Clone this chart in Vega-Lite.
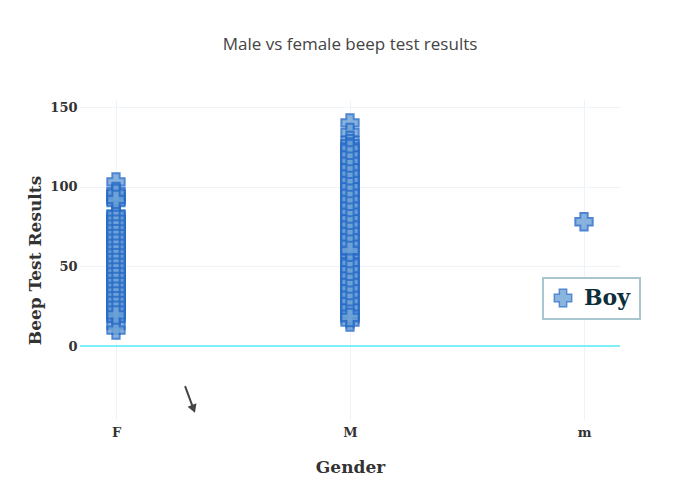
{
  "$schema": "https://vega.github.io/schema/vega-lite/v6.json",
  "width": 540,
  "height": 320,
  "autosize": {"type": "none"},
  "padding": {"left": 80, "top": 100, "right": 80, "bottom": 80},
  "background": "white",
  "title": {
    "text": "Male vs female beep test results",
    "font": "Open Sans",
    "fontSize": 17,
    "fontWeight": "normal",
    "color": "#444444",
    "anchor": "middle",
    "offset": 46
  },
  "config": {
    "view": {"stroke": null},
    "axis": {
      "labelFont": "DejaVu Serif",
      "labelFontWeight": "bold",
      "labelFontSize": 13,
      "labelColor": "#333333",
      "titleFont": "DejaVu Serif",
      "titleFontWeight": "bold",
      "titleFontSize": 17,
      "titleColor": "#333333",
      "domain": false,
      "ticks": false,
      "gridColor": "#eef3f8",
      "gridWidth": 1
    }
  },
  "datasets": {
    "scores": [
      {"Gender": "F", "score": 103}, {"Gender": "F", "score": 97}, {"Gender": "F", "score": 95}, {"Gender": "F", "score": 93},
      {"Gender": "F", "score": 91}, {"Gender": "F", "score": 90}, {"Gender": "F", "score": 83}, {"Gender": "F", "score": 81},
      {"Gender": "F", "score": 80}, {"Gender": "F", "score": 78}, {"Gender": "F", "score": 77}, {"Gender": "F", "score": 76},
      {"Gender": "F", "score": 75}, {"Gender": "F", "score": 74}, {"Gender": "F", "score": 72}, {"Gender": "F", "score": 71},
      {"Gender": "F", "score": 70}, {"Gender": "F", "score": 69}, {"Gender": "F", "score": 68}, {"Gender": "F", "score": 66},
      {"Gender": "F", "score": 65}, {"Gender": "F", "score": 64}, {"Gender": "F", "score": 63}, {"Gender": "F", "score": 62},
      {"Gender": "F", "score": 61}, {"Gender": "F", "score": 60}, {"Gender": "F", "score": 59}, {"Gender": "F", "score": 58},
      {"Gender": "F", "score": 57}, {"Gender": "F", "score": 56}, {"Gender": "F", "score": 55}, {"Gender": "F", "score": 54},
      {"Gender": "F", "score": 53}, {"Gender": "F", "score": 52}, {"Gender": "F", "score": 51}, {"Gender": "F", "score": 50},
      {"Gender": "F", "score": 49}, {"Gender": "F", "score": 48}, {"Gender": "F", "score": 47}, {"Gender": "F", "score": 46},
      {"Gender": "F", "score": 45}, {"Gender": "F", "score": 44}, {"Gender": "F", "score": 43}, {"Gender": "F", "score": 42},
      {"Gender": "F", "score": 41}, {"Gender": "F", "score": 40}, {"Gender": "F", "score": 39}, {"Gender": "F", "score": 38},
      {"Gender": "F", "score": 37}, {"Gender": "F", "score": 36}, {"Gender": "F", "score": 35}, {"Gender": "F", "score": 34},
      {"Gender": "F", "score": 33}, {"Gender": "F", "score": 32}, {"Gender": "F", "score": 31}, {"Gender": "F", "score": 30},
      {"Gender": "F", "score": 29}, {"Gender": "F", "score": 28}, {"Gender": "F", "score": 27}, {"Gender": "F", "score": 26},
      {"Gender": "F", "score": 25}, {"Gender": "F", "score": 24}, {"Gender": "F", "score": 23}, {"Gender": "F", "score": 22},
      {"Gender": "F", "score": 21}, {"Gender": "F", "score": 20}, {"Gender": "F", "score": 19}, {"Gender": "F", "score": 18},
      {"Gender": "F", "score": 17}, {"Gender": "F", "score": 13}, {"Gender": "F", "score": 10},
      {"Gender": "F", "score": 82.5}, {"Gender": "F", "score": 79.5}, {"Gender": "F", "score": 76.5}, {"Gender": "F", "score": 73.5},
      {"Gender": "F", "score": 70.5}, {"Gender": "F", "score": 67.5}, {"Gender": "F", "score": 64.5}, {"Gender": "F", "score": 61.5},
      {"Gender": "F", "score": 58.5}, {"Gender": "F", "score": 55.5}, {"Gender": "F", "score": 52.5}, {"Gender": "F", "score": 49.5},
      {"Gender": "F", "score": 46.5}, {"Gender": "F", "score": 43.5}, {"Gender": "F", "score": 40.5}, {"Gender": "F", "score": 37.5},
      {"Gender": "F", "score": 34.5}, {"Gender": "F", "score": 31.5}, {"Gender": "F", "score": 28.5}, {"Gender": "F", "score": 25.5},
      {"Gender": "F", "score": 22.5}, {"Gender": "F", "score": 19.5}, {"Gender": "F", "score": 96}, {"Gender": "F", "score": 92},
      {"Gender": "M", "score": 140}, {"Gender": "M", "score": 134}, {"Gender": "M", "score": 129}, {"Gender": "M", "score": 127},
      {"Gender": "M", "score": 125}, {"Gender": "M", "score": 123}, {"Gender": "M", "score": 121}, {"Gender": "M", "score": 119},
      {"Gender": "M", "score": 117}, {"Gender": "M", "score": 115}, {"Gender": "M", "score": 113}, {"Gender": "M", "score": 111},
      {"Gender": "M", "score": 109}, {"Gender": "M", "score": 107}, {"Gender": "M", "score": 105}, {"Gender": "M", "score": 103},
      {"Gender": "M", "score": 101}, {"Gender": "M", "score": 99}, {"Gender": "M", "score": 97}, {"Gender": "M", "score": 95},
      {"Gender": "M", "score": 93}, {"Gender": "M", "score": 91}, {"Gender": "M", "score": 89}, {"Gender": "M", "score": 87},
      {"Gender": "M", "score": 85}, {"Gender": "M", "score": 83}, {"Gender": "M", "score": 81}, {"Gender": "M", "score": 79},
      {"Gender": "M", "score": 77}, {"Gender": "M", "score": 75}, {"Gender": "M", "score": 73}, {"Gender": "M", "score": 71},
      {"Gender": "M", "score": 69}, {"Gender": "M", "score": 67}, {"Gender": "M", "score": 65}, {"Gender": "M", "score": 63},
      {"Gender": "M", "score": 61}, {"Gender": "M", "score": 59}, {"Gender": "M", "score": 57}, {"Gender": "M", "score": 55},
      {"Gender": "M", "score": 53}, {"Gender": "M", "score": 51}, {"Gender": "M", "score": 49}, {"Gender": "M", "score": 47},
      {"Gender": "M", "score": 45}, {"Gender": "M", "score": 43}, {"Gender": "M", "score": 41}, {"Gender": "M", "score": 39},
      {"Gender": "M", "score": 37}, {"Gender": "M", "score": 35}, {"Gender": "M", "score": 33}, {"Gender": "M", "score": 31},
      {"Gender": "M", "score": 29}, {"Gender": "M", "score": 27}, {"Gender": "M", "score": 25}, {"Gender": "M", "score": 23},
      {"Gender": "M", "score": 21}, {"Gender": "M", "score": 19}, {"Gender": "M", "score": 17}, {"Gender": "M", "score": 15},
      {"Gender": "M", "score": 124}, {"Gender": "M", "score": 120}, {"Gender": "M", "score": 116}, {"Gender": "M", "score": 112},
      {"Gender": "M", "score": 108}, {"Gender": "M", "score": 104}, {"Gender": "M", "score": 100}, {"Gender": "M", "score": 96},
      {"Gender": "M", "score": 92}, {"Gender": "M", "score": 88}, {"Gender": "M", "score": 84}, {"Gender": "M", "score": 80},
      {"Gender": "M", "score": 76}, {"Gender": "M", "score": 72}, {"Gender": "M", "score": 68}, {"Gender": "M", "score": 64},
      {"Gender": "M", "score": 60}, {"Gender": "M", "score": 52}, {"Gender": "M", "score": 48}, {"Gender": "M", "score": 44},
      {"Gender": "M", "score": 40}, {"Gender": "M", "score": 36}, {"Gender": "M", "score": 32}, {"Gender": "M", "score": 28},
      {"Gender": "M", "score": 24}, {"Gender": "M", "score": 20}, {"Gender": "M", "score": 18},
      {"Gender": "m", "score": 78}
    ],
    "arrow": [
      {"ax": 0.295, "ay": -25.1, "ax2": 0.331, "ay2": -39.4}
    ]
  },
  "layer": [
    {
      "data": {"name": "scores"},
      "mark": {"type": "rule", "color": "#7ff0fa", "strokeWidth": 2},
      "encoding": {"y": {"datum": 0}}
    },
    {
      "data": {"name": "scores"},
      "mark": {
        "type": "point",
        "shape": "M-1,-0.42H-0.42V-1H0.42V-0.42H1V0.42H0.42V1H-0.42V0.42H-1Z",
        "filled": true,
        "size": 300,
        "stroke": "#2a6cc8",
        "strokeWidth": 2,
        "opacity": 0.82
      },
      "encoding": {
        "x": {
          "field": "Gender",
          "type": "nominal",
          "sort": ["F", "M", "m"],
          "scale": {"type": "point", "padding": 0.1538},
          "axis": {"title": "Gender", "labelAngle": 0, "grid": true, "labelPadding": 6, "titlePadding": 20}
        },
        "y": {
          "field": "score",
          "type": "quantitative",
          "scale": {"domain": [-46.4, 154.4], "nice": false, "zero": false},
          "axis": {"title": "Beep Test Results", "values": [50, 100, 150, 0], "grid": true, "labelPadding": 3, "titlePadding": 5}
        },
        "color": {
          "datum": "Boy",
          "type": "nominal",
          "scale": {"range": ["#6da3d7"]},
          "legend": {
            "title": null,
            "orient": "none",
            "legendX": 463,
            "legendY": 178,
            "padding": 9,
            "strokeColor": "#a9c6cf",
            "fillColor": "white",
            "symbolType": "M-1,-0.42H-0.42V-1H0.42V-0.42H1V0.42H0.42V1H-0.42V0.42H-1Z",
            "symbolSize": 300,
            "symbolStrokeColor": "#2a6cc8",
            "symbolStrokeWidth": 1.5,
            "symbolOpacity": 0.8,
            "labelFont": "DejaVu Serif",
            "labelFontWeight": "bold",
            "labelFontSize": 22,
            "labelColor": "#0e2f3a",
            "labelOffset": 10,
            "encode": {"legend": {"update": {"strokeWidth": {"value": 2}}}}
          }
        }
      }
    },
    {
      "data": {"name": "arrow"},
      "mark": {"type": "rule", "color": "#444444", "strokeWidth": 2},
      "encoding": {
        "x": {"field": "ax", "type": "quantitative", "scale": {"domain": [-0.154, 2.154], "nice": false, "zero": false}, "axis": null},
        "x2": {"field": "ax2"},
        "y": {"field": "ay", "type": "quantitative"},
        "y2": {"field": "ay2"}
      }
    },
    {
      "data": {"name": "arrow"},
      "mark": {"type": "point", "shape": "triangle-down", "filled": true, "size": 90, "color": "#444444", "opacity": 1, "angle": 339},
      "encoding": {
        "x": {"field": "ax2", "type": "quantitative", "scale": {"domain": [-0.154, 2.154], "nice": false, "zero": false}, "axis": null},
        "y": {"field": "ay2", "type": "quantitative"}
      }
    }
  ],
  "resolve": {"scale": {"x": "independent"}, "axis": {"x": "independent"}}
}
